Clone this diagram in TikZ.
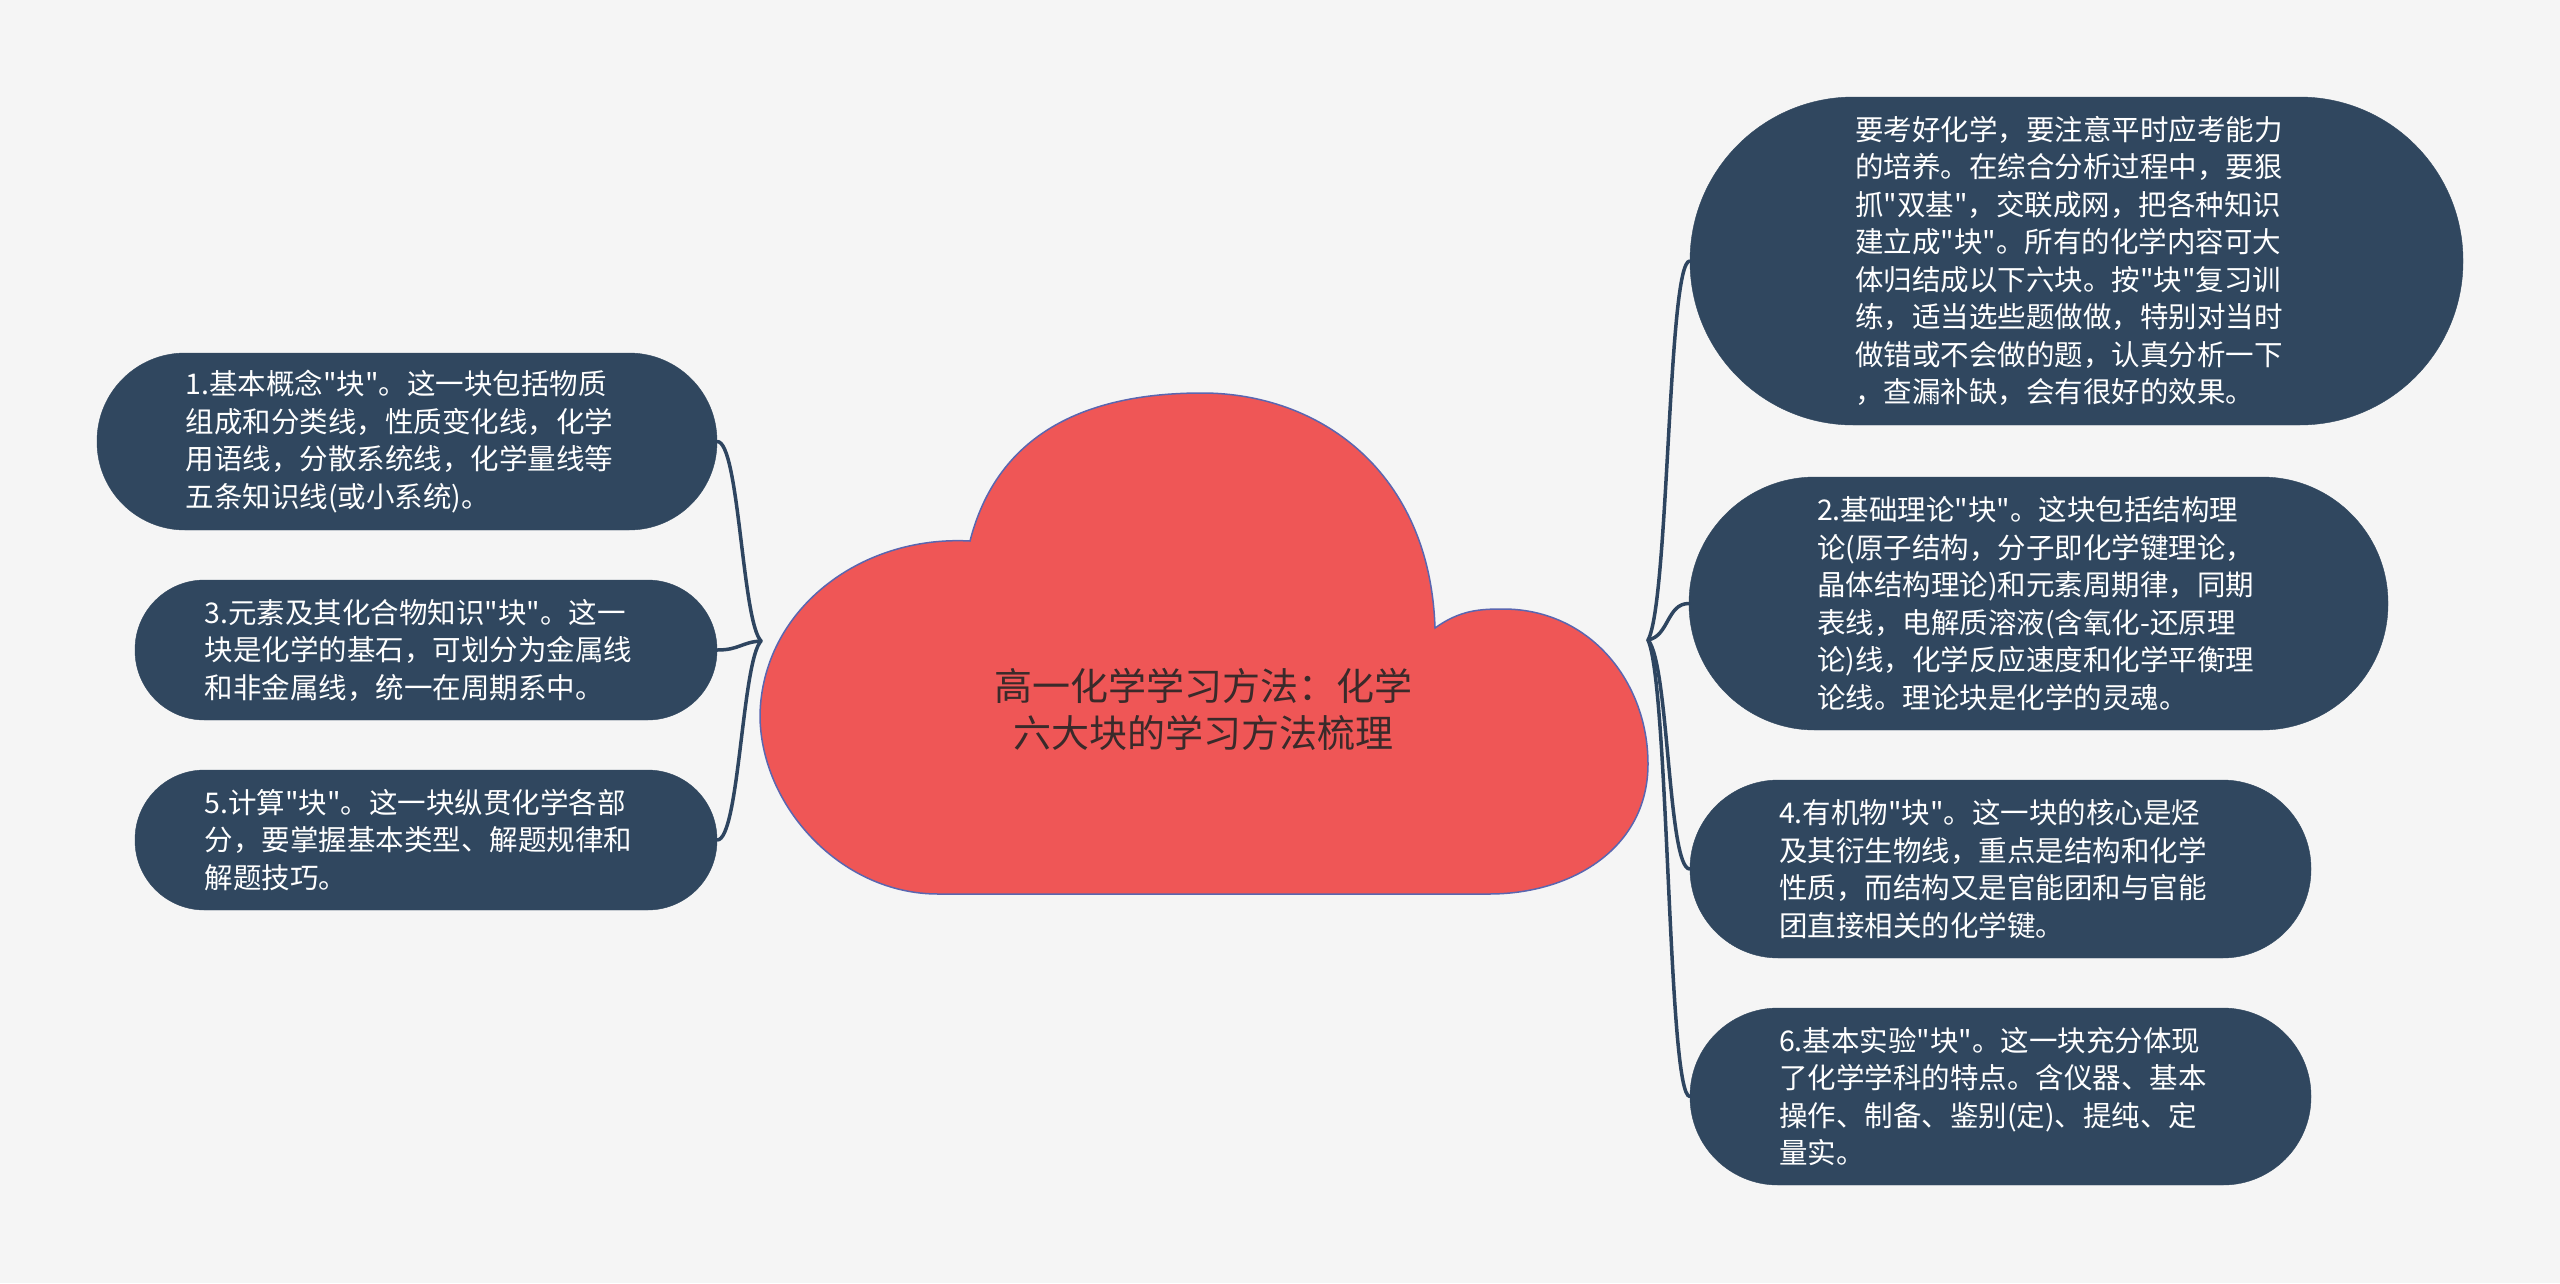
\documentclass[tikz,border=0pt]{standalone}
\usepackage{fontspec}
\setmainfont{Noto Sans CJK SC}[Ligatures=TeXOff]
\definecolor{bgc}{HTML}{F5F5F5}
\definecolor{nodeblue}{HTML}{30475F}
\definecolor{linkblue}{HTML}{2E4560}
\definecolor{cloudred}{HTML}{EF5656}
\definecolor{cloudedge}{HTML}{5A66B0}
\definecolor{titletext}{HTML}{3A2A2A}
\begin{document}
\begin{tikzpicture}[x=1pt,y=-1pt,
  leaf/.style={draw=nodeblue, fill=nodeblue, text=white, align=left, text width=443pt,
    font=\fontsize{28.5}{37.5}\selectfont, inner sep=0pt},
  link/.style={draw=linkblue, line width=3.5pt, line cap=round},
  cloudshape/.style={fill=cloudred, draw=cloudedge, line width=1.5pt},
  titlestyle/.style={text=titletext, align=center, font=\fontsize{38}{47}\selectfont}]
\useasboundingbox (0,0) rectangle (2560,1283);
\fill[bgc] (0,0) rectangle (2560,1283);

% central cloud
\path[cloudshape] (970,541)
  .. controls (1000,424) and (1100,393) .. (1202,393)
  .. controls (1320,393) and (1430,472) .. (1435,628)
  .. controls (1460,610) and (1480,609) .. (1503,609)
  .. controls (1590,609) and (1648,682) .. (1648,764)
  .. controls (1648,848) and (1572,894) .. (1489,894)
  -- (938,894)
  .. controls (840,894) and (760,805) .. (760,715)
  .. controls (762,610) and (860,535) .. (970,541) -- cycle;
\node[titlestyle] (center) at (1203,709) {高一化学学习方法：化学\\六大块的学习方法梳理};

\coordinate (tipL) at (761,641);
\coordinate (tipR) at (1648,640);

% right nodes
\node[leaf, minimum width=773pt, minimum height=328pt, rounded corners=163.5pt] (r0) at (2076.5,261) {要考好化学，要注意平时应考能力\\的培养。在综合分析过程中，要狠\\抓"双基"，交联成网，把各种知识\\建立成"块"。所有的化学内容可大\\体归结成以下六块。按"块"复习训\\练，适当选些题做做，特别对当时\\做错或不会做的题，认真分析一下\\，查漏补缺，会有很好的效果。};
\node[leaf, minimum width=699pt, minimum height=253pt, rounded corners=126pt] (r2) at (2038.5,603.5) {2.基础理论"块"。这块包括结构理\\论(原子结构，分子即化学键理论，\\晶体结构理论)和元素周期律，同期\\表线，电解质溶液(含氧化-还原理\\论)线，化学反应速度和化学平衡理\\论线。理论块是化学的灵魂。};
\node[leaf, minimum width=621pt, minimum height=178pt, rounded corners=88.5pt] (r4) at (2000.5,869) {4.有机物"块"。这一块的核心是烃\\及其衍生物线，重点是结构和化学\\性质，而结构又是官能团和与官能\\团直接相关的化学键。};
\node[leaf, minimum width=621pt, minimum height=177pt, rounded corners=88pt] (r6) at (2000.5,1096.5) {6.基本实验"块"。这一块充分体现\\了化学学科的特点。含仪器、基本\\操作、制备、鉴别(定)、提纯、定\\量实。};

% left nodes
\node[leaf, minimum width=620pt, minimum height=177pt, rounded corners=88pt] (l1) at (407,441.5) {1.基本概念"块"。这一块包括物质\\组成和分类线，性质变化线，化学\\用语线，分散系统线，化学量线等\\五条知识线(或小系统)。};
\node[leaf, minimum width=582pt, minimum height=140pt, rounded corners=69.5pt] (l3) at (426,650) {3.元素及其化合物知识"块"。这一\\块是化学的基石，可划分为金属线\\和非金属线，统一在周期系中。};
\node[leaf, minimum width=582pt, minimum height=140pt, rounded corners=69.5pt] (l5) at (426,840) {5.计算"块"。这一块纵贯化学各部\\分，要掌握基本类型、解题规律和\\解题技巧。};

% connectors left
\draw[link] (l1.east) .. controls +(22,0) and +(-19,-20) .. (tipL);
\draw[link] (l3.east) .. controls +(22,0) and +(-19,1) .. (tipL);
\draw[link] (l5.east) .. controls +(22,0) and +(-19,20) .. (tipL);

% connectors right
\draw[link] (r0.west) .. controls +(-22,0) and +(21,-38) .. (tipR);
\draw[link] (r2.west) .. controls +(-22,0) and +(21,-4) .. (tipR);
\draw[link] (r4.west) .. controls +(-22,0) and +(21,23) .. (tipR);
\draw[link] (r6.west) .. controls +(-22,0) and +(21,46) .. (tipR);
\end{tikzpicture}
\end{document}
